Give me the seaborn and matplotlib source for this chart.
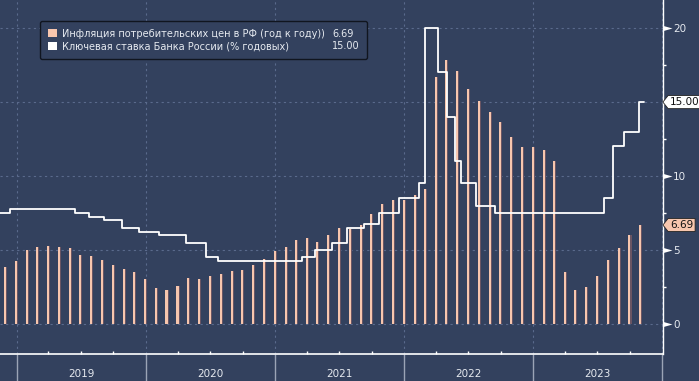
import pandas as pd
import numpy as np
import matplotlib
matplotlib.use('Agg')
import matplotlib.pyplot as plt
import matplotlib.dates as mdates
from matplotlib.path import Path
from matplotlib.patches import Patch
from matplotlib.ticker import NullFormatter
import seaborn as sns

# CPI, % y/y, month-end values (Nov 2018 - Oct 2023)
cpi_months = pd.date_range('2018-11-30', '2023-10-31', freq='ME')
cpi_values = [3.85, 4.26,
              5.0, 5.2, 5.27, 5.2, 5.13, 4.66, 4.59, 4.32, 3.99, 3.72, 3.5, 3.04,
              2.43, 2.3, 2.57, 3.1, 3.04, 3.24, 3.38, 3.58, 3.67, 4.01, 4.41, 4.95,
              5.23, 5.7, 5.83, 5.56, 6.04, 6.5, 6.44, 6.71, 7.45, 8.13, 8.4, 8.39,
              8.73, 9.14, 16.69, 17.84, 17.09, 15.88, 15.07, 14.32, 13.65, 12.64, 11.96, 11.96,
              11.76, 11.01, 3.51, 2.3, 2.5, 3.24, 4.32, 5.14, 6.01, 6.69]

# Key rate, % p.a. (step changes)
rate_dates = ['2018-11-01', '2018-12-14', '2019-06-14', '2019-07-26', '2019-09-06', '2019-10-25',
              '2019-12-13', '2020-02-07', '2020-04-24', '2020-06-19', '2020-07-24', '2021-03-19',
              '2021-04-23', '2021-06-11', '2021-07-23', '2021-09-10', '2021-10-22', '2021-12-17',
              '2022-02-11', '2022-02-28', '2022-04-08', '2022-05-03', '2022-05-26', '2022-06-10',
              '2022-07-22', '2022-09-16', '2023-07-21', '2023-08-15', '2023-09-15', '2023-10-27',
              '2023-11-09']
rate_values = [7.5, 7.75, 7.5, 7.25, 7.0, 6.5, 6.25, 6.0, 5.5, 4.5, 4.25, 4.5,
               5.0, 5.5, 6.5, 6.75, 7.5, 8.5, 9.5, 20, 17, 14, 11, 9.5,
               8.0, 7.5, 8.5, 12, 13, 15, 15]

series_names = ['Инфляция потребительских цен в РФ (год к году))',
                'Ключевая ставка Банка России (% годовых)']
last_values = ['6.69', '15.00']
years = [2019, 2020, 2021, 2022, 2023]
y_ticks = [0, 5, 10, 15, 20]
y_tick_labels = ['0', '5', '10', '', '20']  # 15 is hidden under the value tag

bg = '#33415e'
peach = '#f7c6ae'
grid_col = '#5a6a8c'
txt_col = '#e6eaf0'

sns.set_theme(style='dark', rc={'axes.facecolor': bg, 'figure.facecolor': bg})
plt.rcParams['font.family'] = ['DejaVu Sans']

fig = plt.figure(figsize=(6.99, 3.81), dpi=100)
ax = fig.add_axes([0, 27 / 381, 663 / 699, 354 / 381])

# bars with a thin dark shade on the right
ax.bar(cpi_months + pd.Timedelta(days=3), cpi_values, width=6, color='#6a5563', lw=0, zorder=2)
ax.bar(cpi_months, cpi_values, width=6, color=peach, lw=0, zorder=3)

sns.lineplot(x=pd.to_datetime(rate_dates), y=rate_values, drawstyle='steps-post',
             color='white', lw=1.3, estimator=None, ax=ax, zorder=4)

ax.set_xlim(pd.Timestamp('2018-11-15'), pd.Timestamp('2024-01-03'))
ax.set_ylim(-2.03, 21.9)

# x axis: year separators + quarter ticks
ax.xaxis.set_major_locator(mdates.YearLocator())
ax.xaxis.set_major_formatter(NullFormatter())
ax.xaxis.set_minor_locator(mdates.MonthLocator(bymonth=[4, 7, 10]))
ax.xaxis.set_minor_formatter(NullFormatter())
ax.tick_params(axis='x', which='major', bottom=True, length=19.4, width=1,
               color='#9ba4b6', direction='out')
ax.tick_params(axis='x', which='minor', bottom=True, length=2.2, width=1,
               color='white', direction='in')
for yr in years:
    ax.text(pd.Timestamp(f'{yr}-07-02'), -0.0565, str(yr), transform=ax.get_xaxis_transform(),
            ha='center', va='center', color=txt_col, fontsize=7.5)

# y axis on the right
ax.yaxis.tick_right()
ax.set_yticks(y_ticks)
ax.set_yticklabels(y_tick_labels)
ax.set_yticks([2.5, 7.5, 12.5, 17.5], minor=True)
ax.tick_params(axis='y', which='major', right=True, length=0, pad=7.2,
               labelcolor=txt_col, labelsize=7.5)
ax.tick_params(axis='y', which='minor', right=True, length=2.2, width=1,
               color='white', direction='out')
tri = [(0, -0.28), (1, 0), (0, 0.28), (0, -0.28)]
ax.plot(np.ones(len(y_ticks)), y_ticks, transform=ax.get_yaxis_transform(), marker=tri,
        ms=13, ls='none', color='white', mec='none', clip_on=False, zorder=6)

ax.set_xlabel('')
ax.set_ylabel('')
ax.grid(axis='both', which='major', color=grid_col, ls=(0, (2, 3)), lw=0.8)
ax.grid(axis='both', which='minor', visible=False)

for side in ['left', 'top']:
    ax.spines[side].set_visible(False)
ax.spines['bottom'].set_color('white')
ax.spines['bottom'].set_linewidth(1.2)
ax.spines['right'].set_color('white')
ax.spines['right'].set_linewidth(1)


# last value tags with pointed left side
def tag_box(x0, y0, width, height, mutation_size):
    pad = 0.3 * mutation_size
    x0, y0 = x0 - pad * 0.6, y0 - pad * 0.5
    width, height = width + pad * 1.2, height + pad
    tip = height * 0.4
    verts = [(x0 - tip, y0 + height / 2), (x0, y0), (x0 + width, y0),
             (x0 + width, y0 + height), (x0, y0 + height), (x0 - tip, y0 + height / 2)]
    return Path(verts, closed=True)


for val, fc in zip([rate_values[-1], cpi_values[-1]], ['white', peach]):
    ax.annotate(f'{val:.2f}', xy=(1, val), xycoords=ax.get_yaxis_transform(),
                xytext=(7, 0), textcoords='offset pixels', ha='left', va='center',
                fontsize=7.5, color='#111111', annotation_clip=False, zorder=7,
                bbox=dict(boxstyle=tag_box, fc=fc, ec='#222222', lw=0.6))

# legend with value column
handles = [Patch(fc=peach, ec='none'), Patch(fc='white', ec='none'),
           Patch(fc='none', ec='none'), Patch(fc='none', ec='none')]
leg = ax.legend(handles, series_names + last_values, ncol=2, loc='upper left',
                bbox_to_anchor=(40 / 663, (354 - 21) / 354), borderaxespad=0,
                fontsize=7.0, labelcolor=txt_col, handlelength=0.9, handleheight=0.9,
                handletextpad=0.6, columnspacing=-0.8, labelspacing=0.25,
                borderpad=0.8, fancybox=True, framealpha=1, facecolor=bg,
                edgecolor='#10151f')
leg.get_frame().set_linewidth(1)
leg.set_zorder(8)

fig.savefig('out.png', dpi=100, facecolor=bg)
